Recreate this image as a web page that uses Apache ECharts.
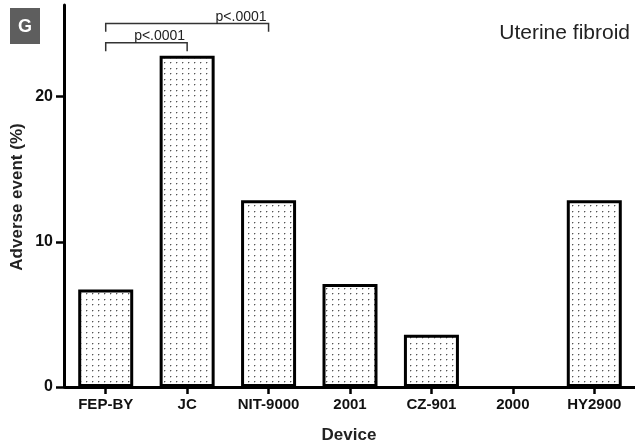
<!DOCTYPE html>
<html>
<head>
<meta charset="utf-8">
<script src="https://cdn.jsdelivr.net/npm/echarts@6/dist/echarts.min.js"></script>
<style>
html,body{margin:0;padding:0;background:#fff;}
#chart{width:635px;height:444px;}
</style>
</head>
<body>
<div id="chart"></div>
<script>
const categories = ['FEP-BY', 'JC', 'NIT-9000', '2001', 'CZ-901', '2000', 'HY2900'];
const adverseEvent = [6.72, 22.8, 12.86, 7.09, 3.6, 0, 12.86];
const yTicks = [0, 10, 20];
const comparisonFrom = ['FEP-BY', 'FEP-BY'];
const comparisonTo = ['JC', 'NIT-9000'];
const comparisonLevel = [23.7, 25.03];
const comparisonDrop = [23.12, 24.46];
const comparisonText = ['p<.0001', 'p<.0001'];

const FONT = '"Liberation Sans", Arial, Helvetica, sans-serif';

// dotted fill pattern
const pat = document.createElement('canvas');
pat.width = 6; pat.height = 11;
const pctx = pat.getContext('2d');
pctx.fillStyle = '#fff';
pctx.fillRect(0, 0, 6, 11);
pctx.fillStyle = '#555';
pctx.fillRect(2, 2, 1, 1);
pctx.fillRect(2, 7, 1, 1);
pctx.fillStyle = 'rgba(85,85,85,0.35)';
pctx.fillRect(3, 2, 1, 1);
pctx.fillRect(2, 3, 1, 1);
pctx.fillRect(3, 7, 1, 1);
pctx.fillRect(2, 8, 1, 1);

const bracketData = comparisonFrom.map((f, i) => [
  categories.indexOf(f), categories.indexOf(comparisonTo[i]),
  comparisonLevel[i], comparisonDrop[i], i
]);

const barData = adverseEvent.map(v => v === 0 ? {value: v, itemStyle: {borderWidth: 0}} : v);

const chart = echarts.init(document.getElementById('chart'), null, {renderer: 'canvas'});
chart.setOption({
  animation: false,
  backgroundColor: '#fff',
  grid: {left: 65, right: 0, top: 5, bottom: 57, containLabel: false},
  xAxis: {
    type: 'category',
    data: categories,
    axisLine: {show: true, lineStyle: {color: '#000', width: 3}},
    axisTick: {show: true, alignWithLabel: true, length: 7, lineStyle: {color: '#000', width: 2.5}},
    axisLabel: {margin: 10, fontFamily: FONT, fontWeight: 'bold', fontSize: 15, color: '#111'},
    splitLine: {show: false},
    z: 3
  },
  yAxis: {
    type: 'value',
    min: 0, max: 26.3, interval: 10,
    offset: 1,
    axisLine: {show: true, lineStyle: {color: '#000', width: 3}},
    axisTick: {show: true, length: 8, customValues: yTicks, lineStyle: {color: '#000', width: 2.5}},
    axisLabel: {margin: 11, customValues: yTicks, fontFamily: FONT, fontWeight: 'bold', fontSize: 16, color: '#111'},
    splitLine: {show: false}
  },
  series: [
    {
      type: 'bar',
      data: barData,
      barWidth: 55,
      itemStyle: {
        color: {image: pat, repeat: 'repeat'},
        borderColor: '#000',
        borderWidth: 3
      },
      z: 2
    },
    {
      type: 'custom',
      clip: false,
      z: 5,
      data: bracketData,
      encode: {x: [0, 1], y: [2, 3]},
      renderItem: function (params, api) {
        const a = api.coord([api.value(0), api.value(2)]);
        const b = api.coord([api.value(1), api.value(2)]);
        const d = api.coord([api.value(0), api.value(3)]);
        const dy = d[1];
        const idx = api.value(4);
        return {
          type: 'group',
          children: [
            {type: 'polyline', shape: {points: [[a[0], dy], [a[0], a[1]], [b[0], b[1]], [b[0], dy]]},
             style: {stroke: '#333', lineWidth: 1.5, fill: null}},
            {type: 'text', x: b[0] - 2, y: a[1] + 0.5,
             style: {text: comparisonText[idx], align: 'right', verticalAlign: 'bottom',
                     font: '14px ' + FONT, fill: '#222'}}
          ]
        };
      }
    }
  ],
  graphic: [
    {type: 'rect', shape: {x: 10, y: 8, width: 30, height: 36}, style: {fill: '#5e5e5e'}},
    {type: 'text', x: 25, y: 27, style: {text: 'G', align: 'center', verticalAlign: 'middle',
      font: 'bold 18px ' + FONT, fill: '#fff'}},
    {type: 'text', x: 630, y: 33, style: {text: 'Uterine fibroid', align: 'right', verticalAlign: 'middle',
      font: '21px ' + FONT, fill: '#222'}},
    {type: 'text', x: 17, y: 197, rotation: Math.PI / 2, style: {text: 'Adverse event (%)', align: 'center',
      verticalAlign: 'middle', font: 'bold 17px ' + FONT, fill: '#222'}},
    {type: 'text', x: 349, y: 435, style: {text: 'Device', align: 'center', verticalAlign: 'middle',
      font: 'bold 17px ' + FONT, fill: '#222'}}
  ]
});
</script>
</body>
</html>
